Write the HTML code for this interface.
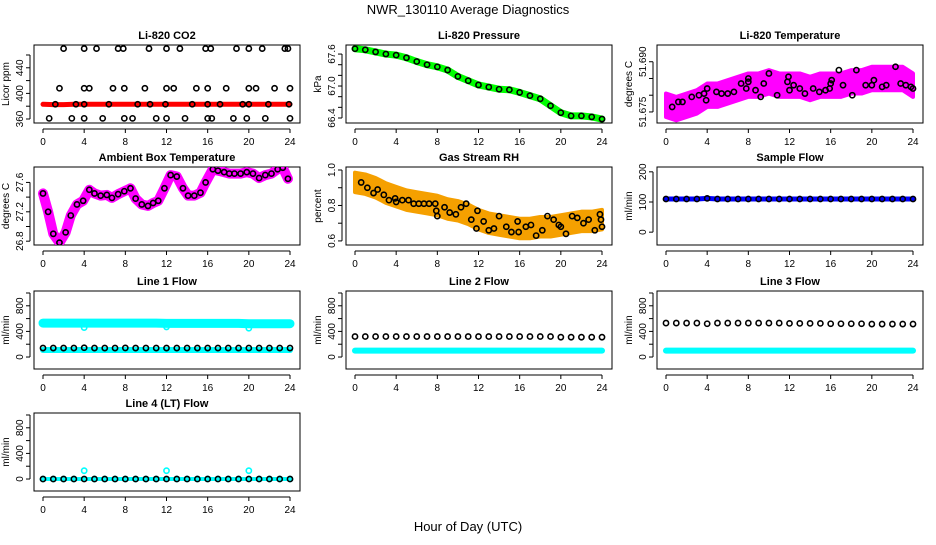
<!DOCTYPE html>
<html><head><meta charset="utf-8"><style>
body{margin:0;background:#fff;}
svg text{font-family:"Liberation Sans",sans-serif;fill:#000;}
</style></head><body>
<svg id="c" width="936" height="540" xmlns="http://www.w3.org/2000/svg">
<text x="468" y="14" font-size="13" text-anchor="middle">NWR_130110  Average Diagnostics</text>
<text x="468" y="531" font-size="13" text-anchor="middle">Hour of Day (UTC)</text>
</svg>
<script>
const hours=[0,1,2,3,4,5,6,7,8,9,10,11,12,13,14,15,16,17,18,19,20,21,22,23,24];
const xTicks=[0,4,8,12,16,20,24];
const co2Hours=[2,4,5.2,7.3,7.8,10.3,12,13.3,15.8,16.3,18.8,20,21.3,23.5,23.8, 1.6,4,4.5,6.8,7.9,9.9,12,12.7,14.9,16,17.8,20,20.7,22.5,24, 1.2,3.2,4,6.4,9.2,10.4,11.9,14.5,16,17.2,19.4,20,21.9,23.9, 0.6,2.8,4,5.8,7.9,8.7,11,12,13.8,16,16.4,18.5,19.8,21.6,24];
const co2Vals=[470,470,470,470,470,470,470,470,470,470,470,470,470,470,470, 408,408,408,408,408,408,408,408,408,408,408,408,408,408,408, 383,383,383,383,383,383,383,383,383,383,383,383,383,383, 361,361,361,361,361,361,361,361,361,361,361,361,361,361,361];
const co2Red=[383,382.5,382.5,383,383,383,383,383,383,383,383,383,383,383,383,383,383,383,383,383,383,383,383,383,383];
const pressure=[67.7,67.68,67.64,67.6,67.58,67.53,67.46,67.4,67.36,67.3,67.18,67.1,67.02,66.98,66.94,66.93,66.88,66.82,66.76,66.63,66.5,66.44,66.44,66.42,66.38];
const tempCenter=[51.677,51.676,51.677,51.678,51.680,51.680,51.681,51.682,51.683,51.683,51.684,51.683,51.683,51.683,51.682,51.683,51.683,51.683,51.684,51.684,51.685,51.685,51.685,51.685,51.683];
const tempHours=[0.6,1.2,1.6,2.5,3.2,3.7,3.9,4,4.9,5.4,6,6.6,7.3,7.8,8,8,8.7,9.2,9.5,10,10.8,11.8,11.9,12,12.4,13,13.5,14.3,14.9,15.5,15.9,16,16.1,16.8,17.2,18.1,18.5,19.4,20,20.2,21,21.4,22.3,22.8,23.3,23.8,24];
const tempVals=[51.6765,51.678,51.678,51.6795,51.68,51.6805,51.6785,51.682,51.681,51.6805,51.6805,51.681,51.6835,51.682,51.684,51.685,51.6815,51.6795,51.6835,51.6865,51.68,51.684,51.6855,51.6815,51.683,51.682,51.6805,51.682,51.681,51.6815,51.682,51.6835,51.6845,51.6875,51.683,51.68,51.6875,51.683,51.683,51.6845,51.6825,51.683,51.6885,51.6835,51.683,51.6825,51.682];
const ambHours=[0,0.5,1,1.6,2.2,2.7,3.3,3.9,4.5,5,5.6,6.2,6.7,7.3,7.9,8.5,9,9.6,10.2,10.7,11.2,11.8,12.4,13,13.6,14.1,14.7,15.3,15.8,16.5,17,17.6,18.1,18.6,19.2,19.8,20.4,21,21.6,22.2,22.8,23.3,23.8];
const ambVals=[27.45,27.2,26.9,26.78,26.92,27.15,27.3,27.35,27.5,27.45,27.42,27.43,27.39,27.44,27.48,27.52,27.38,27.3,27.28,27.32,27.35,27.52,27.7,27.68,27.52,27.42,27.42,27.46,27.6,27.78,27.76,27.74,27.72,27.72,27.72,27.74,27.72,27.66,27.7,27.72,27.78,27.8,27.65];
const rhCenter=[0.93,0.92,0.9,0.87,0.85,0.83,0.82,0.81,0.8,0.78,0.77,0.75,0.72,0.7,0.69,0.68,0.67,0.67,0.68,0.68,0.69,0.7,0.71,0.71,0.72];
const rhHours=[0.6,1.2,1.8,2.2,2.8,3.3,3.9,4,4.6,5.2,5.7,6.2,6.7,7.2,7.8,7.9,8,8.7,9.2,9.8,10.3,10.8,11.3,11.8,11.9,12.5,13,13.5,14,14.7,15.2,15.8,15.9,16.6,17.1,17.6,18.2,18.7,19.3,19.8,20,20.5,21.1,21.6,22.2,22.7,23.3,23.8,23.9,24];
const rhVals=[0.93,0.9,0.87,0.89,0.86,0.83,0.84,0.82,0.83,0.83,0.81,0.81,0.81,0.81,0.81,0.77,0.74,0.79,0.76,0.75,0.79,0.81,0.72,0.67,0.77,0.71,0.66,0.67,0.74,0.68,0.65,0.71,0.65,0.68,0.69,0.63,0.66,0.74,0.72,0.69,0.68,0.64,0.74,0.73,0.7,0.72,0.66,0.75,0.72,0.68];
const sampleFlow=[110,110,110,110,112,110,110,110,110,110,110,110,110,110,110,110,110,110,110,110,110,110,110,110,110];
const line1Cyan=[530,530,530,530,530,530,530,530,530,530,530,530,525,525,525,525,525,525,525,525,520,520,520,520,520];
const line1DipHours=[4,12,20];
const line1DipVals=[460,470,450];
const line1Cyan2=[110,110,110,110,110,110,110,110,110,110,110,110,110,110,110,110,110,110,110,110,110,110,110,110,110];
const line1Black=[140,140,140,140,145,140,140,140,142,140,140,140,140,140,140,140,140,140,140,140,140,140,140,140,140];
const line2Cyan=[100,100,100,100,100,100,100,100,100,100,100,100,100,100,100,100,100,100,100,100,100,100,100,100,100];
const line2Black=[320,320,320,320,320,320,320,320,320,320,320,320,320,320,320,320,320,320,320,320,310,310,310,310,310];
const line3Cyan=[100,100,100,100,100,100,100,100,100,100,100,100,100,100,100,100,100,100,100,100,100,100,100,100,100];
const line3Black=[530,530,530,530,520,530,530,530,530,530,530,530,525,525,525,525,520,520,520,520,515,515,515,515,515];
const line4Cyan=[0,0,0,0,130,0,0,0,0,0,0,0,130,0,0,0,0,0,0,0,130,0,0,0,0];
const line4Black=[0,0,0,0,0,0,0,0,0,0,0,0,0,0,0,0,0,0,0,0,0,0,0,0,0];

const svg=document.getElementById('c');
const NS='http://www.w3.org/2000/svg';
function mk(tag,attrs,parent){const e=document.createElementNS(NS,tag);for(const k in attrs)e.setAttribute(k,attrs[k]);(parent||svg).appendChild(e);return e;}
const colX=[34,346,657],rowY=[45,167,291,413],W=266,H=78;

function panel(col,row,title,ylab,ymin,ymax,labTicks,minorTicks,name){
  const g=mk('g',{});
  
  
  const x0=colX[col],y0=rowY[row];
  const sx=h=>x0+9+h*247/24;
  const sy=v=>y0+H-(v-ymin)/(ymax-ymin)*H;
  const t=mk('text',{x:x0+W/2,y:y0-6,'font-size':11,'font-weight':'bold','text-anchor':'middle'},g);t.textContent=title;
  
  
  const b=mk('rect',{x:x0,y:y0,width:W,height:H,fill:'none',stroke:'#000','stroke-width':1},g);
  
  
  const xa=mk('g',{},g);
  
  
  mk('line',{x1:sx(0),x2:sx(24),y1:y0+H+6,y2:y0+H+6,stroke:'#000'},xa);
  xTicks.forEach(h=>{mk('line',{x1:sx(h),x2:sx(h),y1:y0+H+6,y2:y0+H+10,stroke:'#000'},xa);
    const tt=mk('text',{x:sx(h),y:y0+H+22,'font-size':10,'text-anchor':'middle'},xa);tt.textContent=h;});
  const ya=mk('g',{},g);
  
  
  const all=labTicks.concat(minorTicks).map(Number);
  mk('line',{x1:x0-4,x2:x0-4,y1:sy(Math.min(...all)),y2:sy(Math.max(...all)),stroke:'#000'},ya);
  all.forEach(v=>mk('line',{x1:x0-4,x2:x0-8,y1:sy(v),y2:sy(v),stroke:'#000'},ya));
  labTicks.forEach(v=>{const yy=sy(Number(v));const tt=mk('text',{x:x0-11,y:yy,'font-size':10,'text-anchor':'middle',transform:`rotate(-90 ${x0-11} ${yy})`},ya);tt.textContent=v;});
  const yl=mk('text',{x:x0-25,y:y0+H/2,'font-size':10,'text-anchor':'middle',transform:`rotate(-90 ${x0-25} ${y0+H/2})`},g);yl.textContent=ylab;
  
  
  const clip='clip'+name;
  const cp=mk('clipPath',{id:clip},g);mk('rect',{x:x0,y:y0,width:W,height:H},cp);
  const pg=mk('g',{'clip-path':`url(#${clip})`},g);
  return {sx,sy,g:pg};
}
function band(p,xs,center,spread,fill,name){
  let pts=xs.map((h,i)=>p.sx(h)+','+p.sy(center[i]+spread)).concat(xs.slice().reverse().map((h,i)=>p.sx(h)+','+p.sy(center[xs.length-1-i]-spread)));
  const e=mk('polygon',{points:pts.join(' '),fill:fill,stroke:fill,'stroke-width':4,'stroke-linejoin':'round'},p.g);
  
  
}
function thick(p,xs,vals,color,w,name){
  const e=mk('polyline',{points:xs.map((h,i)=>p.sx(h)+','+p.sy(vals[i])).join(' '),fill:'none',stroke:color,'stroke-width':w,'stroke-linejoin':'round','stroke-linecap':'round'},p.g);
  
  
}
function circles(p,xs,vals,color,name){
  const g=mk('g',{},p.g);
  
  
  xs.forEach((h,i)=>{const c=mk('circle',{cx:p.sx(h),cy:p.sy(vals[i]),r:2.6,fill:'none',stroke:color,'stroke-width':1.6},g);
    
    });
}
// CO2
let p=panel(0,0,'Li-820 CO2','Licor ppm',353.75,475.6,['360','400','440'],['380','420','460'],'co2');
thick(p,hours,co2Red,'#f00',5,'co2-red-series');
circles(p,co2Hours,co2Vals,'#000','co2-points');
// Pressure
p=panel(1,0,'Li-820 Pressure','kPa',66.306,67.77,['66.4','67.0','67.6'],['66.6','66.8','67.2','67.4'],'pressure');
thick(p,hours,pressure,'#0f0',7,'pressure-green-series');
circles(p,hours,pressure,'#000','pressure-points');
// Temperature
p=panel(2,0,'Li-820 Temperature','degrees C',51.6717,51.695,['51.675','51.690'],['51.680','51.685'],'li820-temp');
band(p,hours,tempCenter,0.0035,'#f0f','temp-magenta-cloud');
circles(p,tempHours,tempVals,'#000','temp-points');
// Ambient
p=panel(0,1,'Ambient Box Temperature','degrees C',26.748,27.81,['26.8','27.2','27.6'],['27.0','27.4'],'ambient');
thick(p,ambHours,ambVals,'#f0f',10,'ambient-magenta-series');
circles(p,ambHours,ambVals,'#000','ambient-points');
// RH
p=panel(1,1,'Gas Stream RH','percent',0.577,1.017,['0.6','0.8','1.0'],['0.7','0.9'],'rh');
band(p,hours,rhCenter,0.055,'#f5a000','rh-cloud');
circles(p,rhHours,rhVals,'#000','rh-points');
// Sample flow
p=panel(2,1,'Sample Flow','ml/min',-42.6,216,['0','100','200'],[],'sample-flow');
thick(p,hours,sampleFlow,'#00f',5,'sample-flow-blue');
circles(p,hours,sampleFlow,'#000','sample-flow-points');
// Flows
const fl=['0','400','800'],fm=['200','600','1000'];
p=panel(0,2,'Line 1 Flow','ml/min',-187,1031,fl,fm,'line1');
thick(p,hours,line1Cyan,'#0ff',9,'line1-cyan-high');
circles(p,line1DipHours,line1DipVals,'#0ff','line1-cyan-dips');
thick(p,hours,line1Cyan2,'#0ff',6,'line1-cyan-low');
circles(p,hours,line1Black,'#000','line1-points');
p=panel(1,2,'Line 2 Flow','ml/min',-187,1031,fl,fm,'line2');
thick(p,hours,line2Cyan,'#0ff',6,'line2-cyan');
circles(p,hours,line2Black,'#000','line2-points');
p=panel(2,2,'Line 3 Flow','ml/min',-187,1031,fl,fm,'line3');
thick(p,hours,line3Cyan,'#0ff',6,'line3-cyan');
circles(p,hours,line3Black,'#000','line3-points');
p=panel(0,3,'Line 4 (LT) Flow','ml/min',-187,1031,fl,fm,'line4');
circles(p,hours,line4Cyan,'#0ff','line4-cyan-points');
thick(p,hours,line4Black,'#0ff',4,'line4-cyan');
circles(p,hours,line4Black,'#000','line4-points');
</script>
</body></html>
